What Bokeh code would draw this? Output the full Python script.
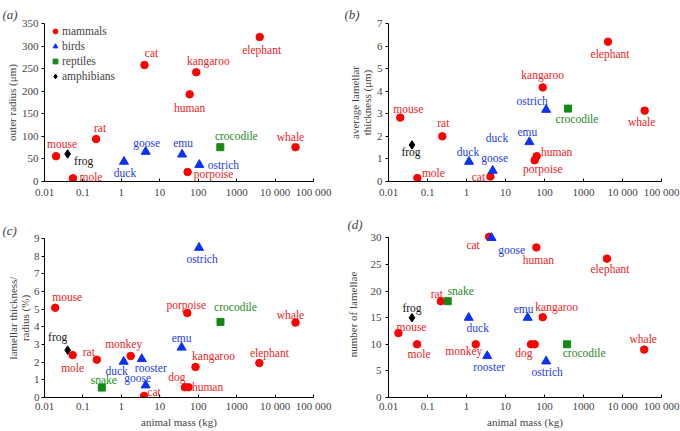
from bokeh.plotting import figure
from bokeh.models import Range1d, FixedTicker, Legend, LegendItem, ColumnDataSource
from bokeh.layouts import column, row
from bokeh.embed import file_html
from bokeh.resources import INLINE
from bokeh.core.properties import value

FONT = "Liberation Serif"

# ---------------- data ----------------
x_ticks = [0.01, 0.1, 1, 10, 100, 1000, 10000, 100000]
x_tick_labels = ["0.01", "0.1", "1", "10", "100", "1000", "10 000", "100 000"]

# (a) outer radius (um)
names_a = ["mouse", "frog", "mole", "rat", "duck", "goose", "cat", "emu", "human",
           "kangaroo", "porpoise", "ostrich", "crocodile", "elephant", "whale"]
group_a = ["mammals", "amphibians", "mammals", "mammals", "birds", "birds", "mammals", "birds",
           "mammals", "mammals", "mammals", "birds", "reptiles", "mammals", "mammals"]
mass_a = [0.02, 0.04, 0.055, 0.22, 1.17, 4.3, 4.0, 38, 60, 89, 53, 107, 376, 3980, 34000]
radius_a = [56, 61, 7, 94, 44, 66, 258, 60, 193, 242, 21, 37, 76, 320, 76]
yticks_a = [0, 50, 100, 150, 200, 250, 300, 350]

# (b) average lamellar thickness (um)
names_b = ["mouse", "frog", "mole", "rat", "duck", "goose", "cat", "emu", "ostrich",
           "porpoise", "human", "kangaroo", "crocodile", "elephant", "whale"]
group_b = ["mammals", "amphibians", "mammals", "mammals", "birds", "birds", "mammals", "birds",
           "birds", "mammals", "mammals", "mammals", "reptiles", "mammals", "mammals"]
mass_b = [0.02, 0.04, 0.055, 0.24, 1.16, 4.7, 4.1, 41, 110, 56, 63, 90, 400, 4250, 37000]
thick_b = [2.83, 1.62, 0.15, 2.0, 0.88, 0.48, 0.22, 1.75, 3.18, 0.94, 1.12, 4.17, 3.23, 6.19, 3.14]
yticks_b = [0, 1, 2, 3, 4, 5, 6, 7]

# (c) lamellar thickness / radius (%)
names_c = ["mouse", "frog", "mole", "rat", "monkey", "duck", "rooster", "goose", "snake", "cat",
           "emu", "dog", "human", "porpoise", "kangaroo", "ostrich", "crocodile", "elephant", "whale"]
group_c = ["mammals", "amphibians", "mammals", "mammals", "mammals", "birds", "birds", "birds",
           "reptiles", "mammals", "birds", "mammals", "mammals", "mammals", "mammals", "birds",
           "reptiles", "mammals", "mammals"]
mass_c = [0.019, 0.04, 0.054, 0.23, 1.75, 1.15, 3.4, 4.3, 0.31, 3.9,
          37, 45, 56, 52, 85, 105, 380, 3900, 34000]
ratio_c = [5.08, 2.68, 2.4, 2.14, 2.35, 2.03, 2.18, 0.69, 0.56, 0.09,
           2.83, 0.58, 0.58, 4.78, 1.73, 8.48, 4.28, 1.95, 4.24]
yticks_c = [0, 1, 2, 3, 4, 5, 6, 7, 8, 9]

# (d) number of lamellae
names_d = ["cat", "goose", "human", "elephant", "rat", "snake", "frog", "mouse", "mole", "duck",
           "emu", "kangaroo", "monkey", "dog", "porpoise", "rooster", "ostrich", "crocodile", "whale"]
group_d = ["mammals", "birds", "mammals", "mammals", "mammals", "reptiles", "amphibians", "mammals",
           "mammals", "birds", "birds", "mammals", "mammals", "mammals", "mammals", "birds", "birds",
           "reptiles", "mammals"]
mass_d = [3.8, 4.4, 62, 4000, 0.22, 0.33, 0.04, 0.018, 0.054, 1.14,
          37, 90, 1.73, 45, 56, 3.4, 110, 380, 36000]
count_d = [30.2, 30, 28.2, 26.1, 18.1, 18.1, 15, 12.1, 10, 15,
           15, 15.1, 10, 10, 10, 7.8, 6.8, 10, 9]
yticks_d = [0, 5, 10, 15, 20, 25, 30]
shown_d = [True] * 14 + [False] + [True] * 4   # porpoise is unlabeled

# ---------------- label offsets (px) ----------------
off_a = [(6, -12), (16, 7), (18, -1), (4, -11), (1, 11), (1, -9), (7, -12), (1, -11), (0, 14),
         (12, -11), (26, 2), (24, 0), (16, -11), (2, 13), (-5, -10)]
off_b = [(8, -9), (-1, 7), (16, -5), (1, -13), (-1, -10), (2, -13), (-12, 0), (-2, -10), (-14, -9),
         (8, 9), (20, -4), (0, -12), (9, 10), (2, 12), (-3, 11)]
off_c = [(12, -11), (-10, -13), (0, 13), (-8, -8), (-7, -12), (-7, 9), (9, 9), (-8, -7), (2, -8),
         (10, -4), (0, -10), (-8, -10), (19, 0), (-1, -8), (18, -11), (3, 11), (15, -15), (10, -10),
         (-5, -8)]
off_d = [(-16, 8), (20, 12), (2, 13), (3, 10), (-4, -7), (13, -10), (0, -10), (13, -6), (2, 10),
         (9, 10), (-4, -9), (14, -10), (-12, 7), (-7, 9), (0, 0), (2, 11), (1, 11), (17, 9),
         (-1, -11)]

MARK = {"mammals": ("circle", 7.5, "#ff0000"),
        "birds": ("triangle", 9, "#0a32f5"),
        "reptiles": ("square", 7, "#138a13"),
        "amphibians": ("diamond", 8.5, "#000000")}
TXT = {"mammals": "#ec1c24", "birds": "#1e3ce6", "reptiles": "#1b8c1b", "amphibians": "#111111"}
ORDER = ["mammals", "birds", "reptiles", "amphibians"]


def panel(names, groups, mass, vals, offs, shown, yticks, yrange, ylabel, xlabel,
          w, h, borders, letter, letter_dx, letter_va, ystand, xstand, legend=False, extra=None):
    bl, br, bt, bb = borders
    p = figure(width=w, height=h, x_axis_type="log",
               x_range=Range1d(0.01, 100000), y_range=Range1d(*yrange),
               output_backend="svg", toolbar_location=None)
    p.min_border = 0
    p.min_border_left, p.min_border_right = bl, br
    p.min_border_top, p.min_border_bottom = bt, bb
    p.outline_line_color = None
    p.grid.visible = False
    p.background_fill_color = "white"
    p.border_fill_color = "white"

    p.title.text = letter
    p.title.text_font = FONT
    p.title.text_font_style = "italic"
    p.title.text_font_size = "13px"
    p.title.align = "left"
    p.title.vertical_align = letter_va
    p.title.offset = letter_dx
    p.title.standoff = 0

    xa = p.xaxis[0]
    xa.ticker = FixedTicker(ticks=x_ticks)
    xa.major_label_overrides = {t: l for t, l in zip(x_ticks, x_tick_labels)}
    xa.minor_tick_line_color = None
    xa.major_tick_in, xa.major_tick_out = 3, 0
    xa.major_label_standoff = xstand
    xa.major_label_text_font = FONT
    xa.major_label_text_font_size = "11px"
    xa.axis_line_color = "black"
    if xlabel:
        xa.axis_label = xlabel
        xa.axis_label_text_font = FONT
        xa.axis_label_text_font_size = "11px"
        xa.axis_label_text_font_style = "normal"
        xa.axis_label_standoff = 1

    ya = p.yaxis[0]
    ya.ticker = FixedTicker(ticks=yticks)
    ya.bounds = (yticks[0], yticks[-1])
    ya.minor_tick_line_color = None
    ya.major_tick_in, ya.major_tick_out = 0, 3
    ya.major_label_standoff = ystand[0]
    ya.major_label_text_font = FONT
    ya.major_label_text_font_size = "11px"
    ya.axis_label = ylabel
    ya.axis_label_text_font = FONT
    ya.axis_label_text_font_size = "11px"
    ya.axis_label_text_font_style = "normal"
    ya.axis_label_text_line_height = 1.0
    ya.axis_label_standoff = ystand[1]

    rend = {}
    for g in ORDER:
        idx = [i for i, gg in enumerate(groups) if gg == g]
        if not idx:
            continue
        m, s, c = MARK[g]
        rend[g] = p.scatter(x=[mass[i] for i in idx], y=[vals[i] for i in idx],
                            marker=m, size=s, fill_color=c, line_color=c)

    idx = [i for i in range(len(names)) if shown[i]]
    src = ColumnDataSource(dict(
        x=[mass[i] for i in idx], y=[vals[i] for i in idx],
        t=[names[i] for i in idx],
        dx=[offs[i][0] for i in idx], dy=[offs[i][1] for i in idx],
        c=[TXT[groups[i]] for i in idx]))
    p.text(x="x", y="y", text="t", x_offset="dx", y_offset="dy", text_color="c",
           source=src, text_align="center", text_baseline="middle",
           text_font=value(FONT), text_font_size="11.5px")
    if extra:
        i, t, dx, dy = extra
        p.text(x=[mass[i]], y=[vals[i]], text=[t], x_offset=dx, y_offset=dy,
               text_color=TXT[groups[i]], text_align="center", text_baseline="middle",
               text_font=value(FONT), text_font_size="11.5px")

    if legend:
        fh = h - bt - bb
        items = [LegendItem(label=g, renderers=[rend[g]]) for g in ORDER if g in rend]
        lh = 4 * 14 + 3 * 1
        lg = Legend(items=items, location=(5, fh - lh - 1), padding=0, spacing=1, margin=0,
                    label_height=14, glyph_height=14, glyph_width=12, label_standoff=1,
                    border_line_color=None, background_fill_alpha=0,
                    label_text_font=FONT, label_text_font_size="11.5px")
        p.add_layout(lg)
    return p


pa = panel(names_a, group_a, mass_a, radius_a, off_a, [True] * len(names_a), yticks_a, (0, 350),
           "outer radius (\u03bcm)", None, 340, 215, (44, 27, 23, 34),
           "(a)", -42, "top", (3, 1), 4, legend=True)
pb = panel(names_b, group_b, mass_b, thick_b, off_b, [True] * len(names_b), yticks_b, (0, 7),
           "average lamellar\nthickness (\u03bcm)", None, 340, 208, (44, 18, 23, 27),
           "(b)", -44, "top", (3, 1), 4, extra=(4, "duck", 28, -24))
pc = panel(names_c, group_c, mass_c, ratio_c, off_c, [True] * len(names_c), yticks_c, (0, 9),
           "lamellar thickness/\nradius (%)", "animal mass (kg)", 340, 216,
           (44, 27, 23, 34), "(c)", -42, "middle", (2, 0), 2)
pd = panel(names_d, group_d, mass_d, count_d, off_d, shown_d, yticks_d, (0, 31.2),
           "number of lamellae", "animal mass (kg)", 340, 223,
           (48, 19, 23, 34), "(d)", -41, "bottom", (4, 9), 2)

layout = row(column(pa, pc), column(pb, pd))
open("out.html", "w").write(file_html(layout, INLINE))
